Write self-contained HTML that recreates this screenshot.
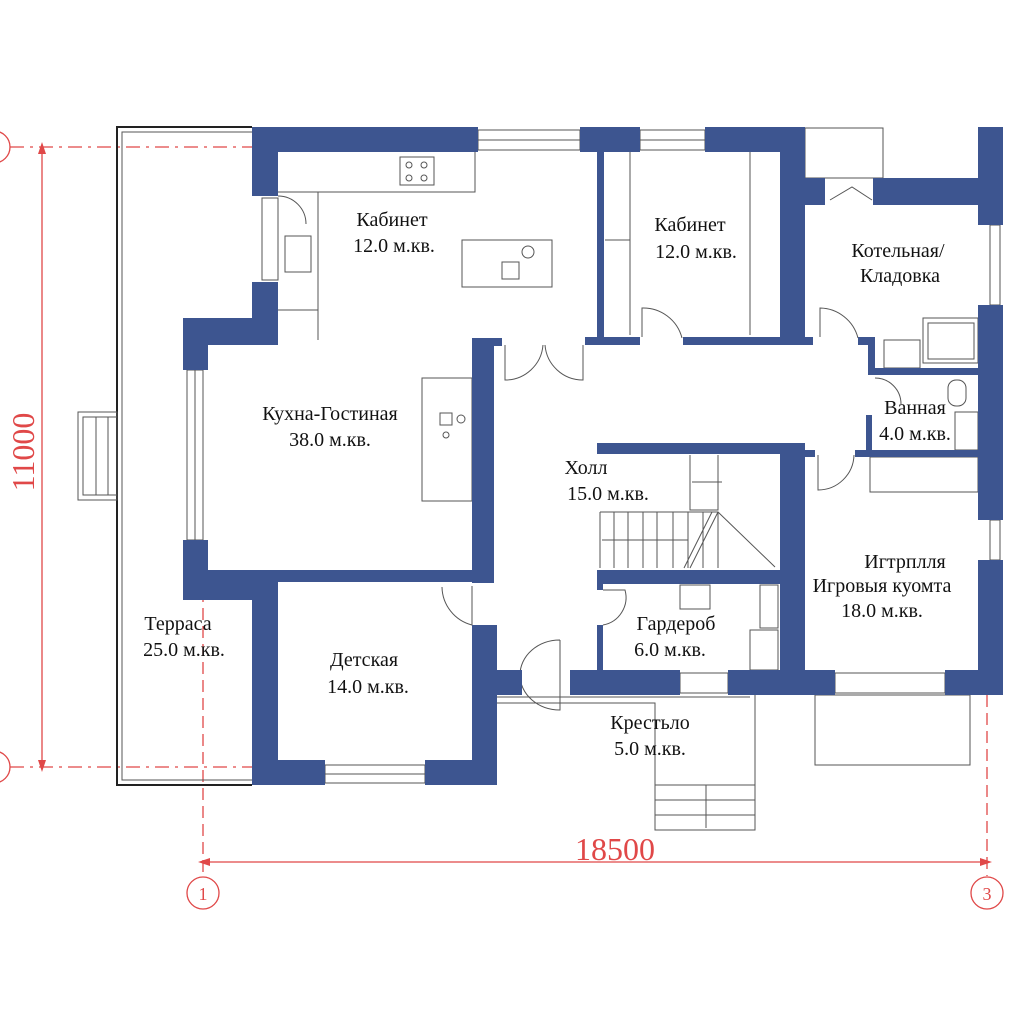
<!DOCTYPE html>
<html><head><meta charset="utf-8"><style>
html,body{margin:0;padding:0;background:#fff;}
svg{display:block;}
text{font-family:"Liberation Serif",serif;fill:#111;}
</style></head><body>
<svg width="1024" height="1024" viewBox="0 0 1024 1024" xmlns="http://www.w3.org/2000/svg">
<rect width="1024" height="1024" fill="#fff"/>
<g stroke="#e04848" fill="none" stroke-width="1.3">
  <line x1="10" y1="147" x2="252" y2="147" stroke-dasharray="14,6,3,6"/>
  <line x1="10" y1="767" x2="252" y2="767" stroke-dasharray="14,6,3,6"/>
  <line x1="42" y1="147" x2="42" y2="767"/>
  <circle cx="-6" cy="147" r="16"/>
  <circle cx="-6" cy="767" r="16"/>
  <line x1="203" y1="590" x2="203" y2="876" stroke-dasharray="12,6"/>
  <line x1="987" y1="695" x2="987" y2="876" stroke-dasharray="12,6"/>
  <line x1="203" y1="862" x2="987" y2="862"/>
  <circle cx="203" cy="893" r="16"/>
  <circle cx="987" cy="893" r="16"/>
</g>
<g fill="#e04848">
  <polygon points="198,862 210,858 210,866"/>
  <polygon points="992,862 980,858 980,866"/>
  <polygon points="42,142 38,154 46,154"/>
  <polygon points="42,772 38,760 46,760"/>
</g>
<text x="615" y="860" font-size="32" text-anchor="middle" style="fill:#e04848">18500</text>
<text transform="translate(34,452) rotate(-90)" font-size="32" text-anchor="middle" style="fill:#e04848">11000</text>
<text x="203" y="900" font-size="18" text-anchor="middle" style="fill:#e04848">1</text>
<text x="987" y="900" font-size="18" text-anchor="middle" style="fill:#e04848">3</text>

<g stroke="#555" fill="none" stroke-width="1">
  <path d="M252,127 H117 V785 H252" stroke="#222" stroke-width="2"/>
  <path d="M252,132 H122 V780 H252"/>
  <rect x="78" y="412" width="39" height="88"/>
  <rect x="83" y="417" width="34" height="78"/>
  <line x1="96" y1="417" x2="96" y2="495"/><line x1="108" y1="417" x2="108" y2="495"/>
  <path d="M278,192 H318 V340 M278,310 H318 M318,192 H475 V152"/>
  <rect x="400" y="157" width="34" height="28"/>
  <circle cx="409" cy="165" r="3"/><circle cx="424" cy="165" r="3"/><circle cx="409" cy="178" r="3"/><circle cx="424" cy="178" r="3"/>
  <rect x="262" y="198" width="16" height="82"/>
  <rect x="285" y="236" width="26" height="36"/>
  <path d="M278,196 a28,28 0 0 1 28,28"/>
  <rect x="462" y="240" width="90" height="47"/>
  <circle cx="528" cy="252" r="6"/><rect x="502" y="262" width="17" height="17"/>
  <rect x="422" y="378" width="50" height="123"/>
  <rect x="440" y="413" width="12" height="12"/><circle cx="461" cy="419" r="4"/><circle cx="446" cy="435" r="3"/>
  <rect x="187" y="370" width="16" height="170"/>
  <line x1="195" y1="370" x2="195" y2="540"/>
  <rect x="478" y="130" width="102" height="20"/><line x1="478" y1="140" x2="580" y2="140"/>
  <rect x="640" y="130" width="65" height="20"/><line x1="640" y1="140" x2="705" y2="140"/>
  <path d="M630,152 V335 M605,240 H630 M750,152 V335"/>
  <path d="M642,337 V308 a40,40 0 0 1 40,30"/>
  <path d="M505,345 V380 a38,38 0 0 0 38,-35 M583,345 V380 a38,38 0 0 1 -38,-35"/>
  <rect x="805" y="128" width="78" height="50"/>
  <path d="M830,200 L852,187 L872,200"/>
  <path d="M820,337 V308 a40,40 0 0 1 38,30"/>
  <rect x="923" y="318" width="55" height="45"/><rect x="928" y="323" width="46" height="36"/>
  <rect x="884" y="340" width="36" height="28"/>
  <rect x="990" y="225" width="10" height="80"/><rect x="990" y="520" width="10" height="40"/>
  <path d="M875,378 a26,26 0 0 1 26,26"/>
  <rect x="948" y="380" width="18" height="26" rx="8"/>
  <rect x="955" y="412" width="23" height="38"/>
  <path d="M818,455 V490 a36,36 0 0 0 36,-35"/>
  <rect x="870" y="457" width="108" height="35"/>
  <path d="M690,455 V510 H718 V455"/>
  <path d="M600,512 H718 V568 M600,512 V568"/>
  <path d="M614,512 V568 M628,512 V568 M643,512 V568 M657,512 V568 M673,512 V568 M688,512 V568 M703,512 V568"/>
  <path d="M718,512 L775,567 M718,512 L690,568 M712,512 L684,568"/>
  <path d="M602,540 H688 M692,482 H722"/>
  <path d="M603,590 H625 a28,28 0 0 1 -22,35"/>
  <rect x="680" y="585" width="30" height="24"/>
  <rect x="760" y="585" width="18" height="43"/><rect x="750" y="630" width="28" height="40"/>
  <path d="M472,586 V625 a40,40 0 0 1 -30,-38"/>
  <path d="M560,640 V710 a40,35 0 0 1 0,-70"/>
  <rect x="325" y="765" width="100" height="18"/><line x1="325" y1="774" x2="425" y2="774"/>
  <rect x="680" y="673" width="48" height="20"/>
  <rect x="835" y="673" width="110" height="20"/>
  <path d="M497,703 H655 V830 H755 V695 M497,697 H750"/>
  <path d="M655,785 H755 M655,800 H755 M655,815 H755 M706,785 V828"/>
  <rect x="815" y="695" width="155" height="70"/>
</g>

<g fill="#3d5590">
  <rect x="252" y="127" width="226" height="25"/>
  <rect x="580" y="127" width="60" height="25"/>
  <rect x="705" y="127" width="100" height="25"/>
  <rect x="252" y="127" width="26" height="69"/>
  <rect x="252" y="282" width="26" height="63"/>
  <rect x="183" y="318" width="95" height="27"/>
  <rect x="183" y="318" width="25" height="52"/>
  <rect x="183" y="540" width="25" height="60"/>
  <rect x="183" y="570" width="292" height="12"/>
  <rect x="183" y="575" width="95" height="25"/>
  <rect x="252" y="575" width="26" height="210"/>
  <rect x="472" y="338" width="22" height="245"/>
  <rect x="472" y="338" width="30" height="8"/>
  <rect x="597" y="152" width="7" height="185"/>
  <rect x="585" y="337" width="55" height="8"/>
  <rect x="683" y="337" width="130" height="8"/>
  <rect x="780" y="127" width="25" height="218"/>
  <rect x="805" y="178" width="20" height="27"/>
  <rect x="873" y="178" width="105" height="27"/>
  <rect x="978" y="127" width="25" height="98"/>
  <rect x="978" y="305" width="25" height="215"/>
  <rect x="978" y="560" width="25" height="135"/>
  <rect x="858" y="337" width="17" height="8"/>
  <rect x="868" y="337" width="7" height="38"/>
  <rect x="868" y="368" width="110" height="7"/>
  <rect x="866" y="415" width="6" height="42"/>
  <rect x="855" y="450" width="123" height="7"/>
  <rect x="597" y="443" width="208" height="11"/>
  <rect x="780" y="443" width="25" height="252"/>
  <rect x="805" y="450" width="10" height="7"/>
  <rect x="597" y="570" width="183" height="14"/>
  <rect x="597" y="570" width="6" height="20"/>
  <rect x="597" y="625" width="6" height="47"/>
  <rect x="472" y="625" width="25" height="160"/>
  <rect x="472" y="670" width="50" height="25"/>
  <rect x="570" y="670" width="110" height="25"/>
  <rect x="728" y="670" width="107" height="25"/>
  <rect x="945" y="670" width="58" height="25"/>
  <rect x="252" y="760" width="73" height="25"/>
  <rect x="425" y="760" width="72" height="25"/>
</g>

<g font-size="20" text-anchor="middle">
  <text x="392" y="226">Кабинет</text><text x="394" y="252">12.0 м.кв.</text>
  <text x="690" y="231">Кабинет</text><text x="696" y="258">12.0 м.кв.</text>
  <text x="898" y="257">Котельная/</text><text x="900" y="282">Кладовка</text>
  <text x="330" y="420">Кухна-Гостиная</text><text x="330" y="446">38.0 м.кв.</text>
  <text x="915" y="414">Ванная</text><text x="915" y="440">4.0 м.кв.</text>
  <text x="586" y="474">Холл</text>
  <text x="608" y="500">15.0 м.кв.</text>
  <text x="905" y="568">Игтрплля</text><text x="882" y="592">Игровыя куомта</text><text x="882" y="617">18.0 м.кв.</text>
  <text x="178" y="630">Терраса</text><text x="184" y="656">25.0 м.кв.</text>
  <text x="676" y="630">Гардероб</text><text x="670" y="656">6.0 м.кв.</text>
  <text x="364" y="666">Детская</text><text x="368" y="693">14.0 м.кв.</text>
  <text x="650" y="729">Крестьло</text><text x="650" y="755">5.0 м.кв.</text>
</g>
</svg>
</body></html>
